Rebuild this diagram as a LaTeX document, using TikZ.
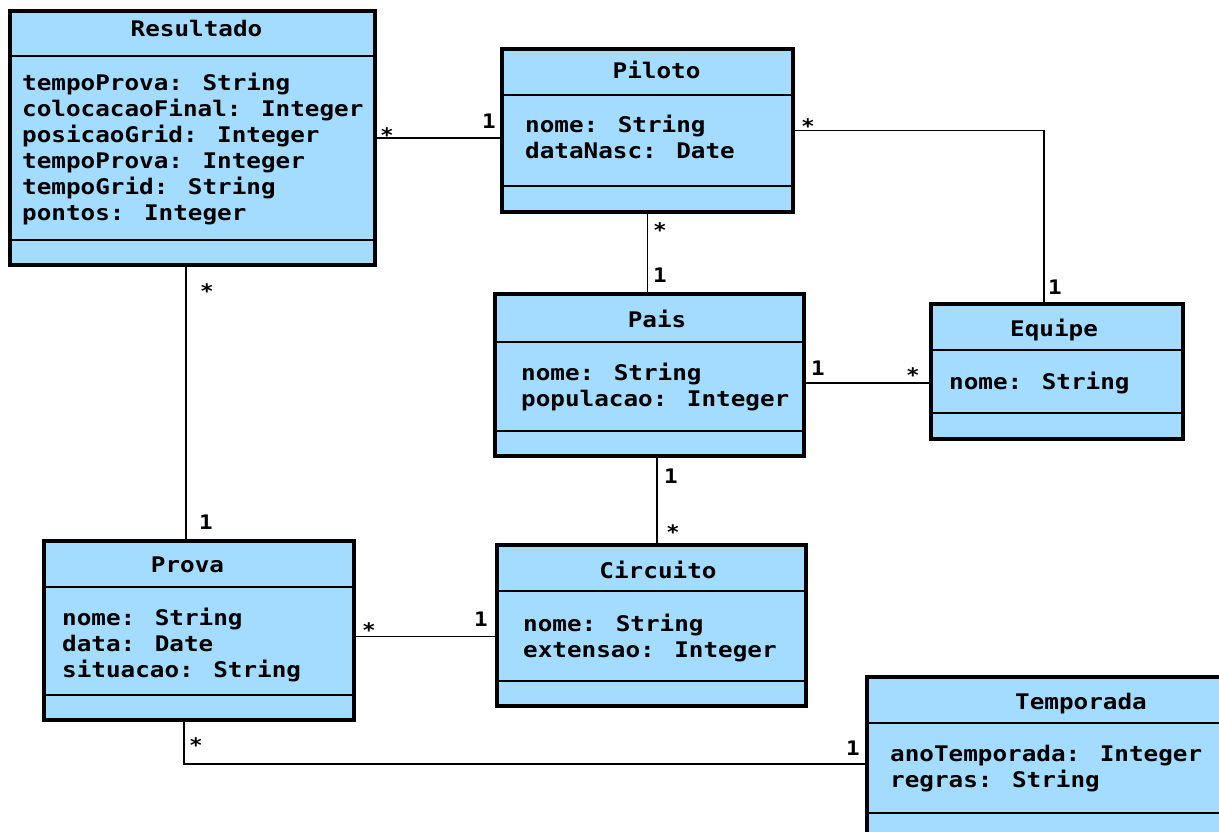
\documentclass[tikz,border=0pt]{standalone}
\usepackage{fontspec}
\usetikzlibrary{calc}
\newfontfamily\umlfont[FakeStretch=1.13]{DejaVu Sans Mono}
\definecolor{umlblue}{HTML}{A3DCFF}
\tikzset{
  clsbox/.style={draw=black, fill=umlblue, line width=3.2pt, inner sep=0pt, outer sep=0pt, anchor=north west},
  sepline/.style={draw=black, line width=1.4pt},
  conn/.style={draw=black, line width=1.4pt},
  txt/.style={font=\umlfont\bfseries\fontsize{21.5pt}{26pt}\selectfont, inner sep=0pt, anchor=base west},
  ttl/.style={font=\umlfont\bfseries\fontsize{21.5pt}{26pt}\selectfont, inner sep=0pt, anchor=base},
  mult/.style={font=\umlfont\bfseries\fontsize{20pt}{26pt}\selectfont, inner sep=0pt, anchor=base}
}
\newcommand{\umlcls}[7]{%
  \node[clsbox, minimum width={#4-#2}, minimum height={#5-#3}] (#1) at (#2,#3) {};
  \draw[sepline] (#2,#6) -- (#4,#6);
  \draw[sepline] (#2,#7) -- (#4,#7);
}
\begin{document}
\begin{tikzpicture}[x=1pt,y=-1pt]
\useasboundingbox (0,0) rectangle (1219,832);
\clip (0,0) rectangle (1219,832);

% classes
\umlcls{res}{10}{11}{375}{265}{56}{240}
\umlcls{pil}{502}{49}{793}{212}{95}{186}
\umlcls{pais}{495}{294}{804}{456}{342}{431}
\umlcls{eq}{931}{304}{1183}{439}{350}{413}
\umlcls{prova}{44}{541}{354}{720}{587}{695}
\umlcls{circ}{497}{545}{806}{706}{591}{681}
\umlcls{temp}{867}{677}{1300}{860}{723}{813}

% titles
\node[ttl] (tres) at (196.5,37) {Resultado};
\node[ttl] (tpil) at (656.5,79) {Piloto};
\node[ttl] (tpais) at (657,327) {Pais};
\node[ttl] (teq) at (1054,336) {Equipe};
\node[ttl] (tprova) at (187.5,572) {Prova};
\node[ttl] (tcirc) at (658,578) {Circuito};
\node[ttl] (ttemp) at (1081,709) {Temporada};

% attributes
\node[txt] (r1) at (22,91) {tempoProva: String};
\node[txt] (r2) at (22,117) {colocacaoFinal: Integer};
\node[txt] (r3) at (22,143) {posicaoGrid: Integer};
\node[txt] (r4) at (22,169) {tempoProva: Integer};
\node[txt] (r5) at (22,195) {tempoGrid: String};
\node[txt] (r6) at (22,221) {pontos: Integer};

\node[txt] (p1) at (525,133) {nome: String};
\node[txt] (p2) at (525,159) {dataNasc: Date};

\node[txt] (pa1) at (521,380) {nome: String};
\node[txt] (pa2) at (521,406) {populacao: Integer};

\node[txt] (e1) at (949,389) {nome: String};

\node[txt] (pr1) at (62,625) {nome: String};
\node[txt] (pr2) at (62,651) {data: Date};
\node[txt] (pr3) at (62,677) {situacao: String};

\node[txt] (c1) at (523,631) {nome: String};
\node[txt] (c2) at (523,657) {extensao: Integer};

\node[txt] (t1) at (890,761) {anoTemporada: Integer};
\node[txt] (t2) at (890,787) {regras: String};

% connectors
\draw[conn] (res.east) -- (res.east -| pil.west);
\coordinate (pe0) at ($(eq.north)+(-13,0)$);
\draw[conn] (pil.east) -| (pe0);
\draw[conn] (pil.south) -- (pil.south |- pais.north);
\coordinate (pq) at ($(pais.east)+(0,8)$);
\draw[conn] (pq) -- (pq -| eq.west);
\coordinate (rp) at ($(res.south)+(-6.5,0)$);
\draw[conn] (rp) -- (rp |- prova.north);
\coordinate (pc) at ($(pais.south)+(7.5,0)$);
\draw[conn] (pc) -- (pc |- circ.north);
\coordinate (prc) at ($(prova.east)+(0,6)$);
\draw[conn] (prc) -- (prc -| circ.west);
\coordinate (ptb) at ($(prova.south)+(-15,0)$);
\coordinate (ptt) at ($(temp.west)+(0,-4.5)$);
\draw[conn] (ptt) -| (ptb);

% multiplicities
\node[mult] (m1) at (387,143) {*};
\node[mult] (m2) at (489,129) {1};
\node[mult] (m3) at (808,134) {*};
\node[mult] (m4) at (1055,294) {1};
\node[mult] (m5) at (660,237) {*};
\node[mult] (m6) at (660,282) {1};
\node[mult] (m7) at (818,375) {1};
\node[mult] (m8) at (913,382) {*};
\node[mult] (m9) at (207,298) {*};
\node[mult] (m10) at (206,529) {1};
\node[mult] (m11) at (671,483) {1};
\node[mult] (m12) at (673,539) {*};
\node[mult] (m13) at (369,637) {*};
\node[mult] (m14) at (481,626) {1};
\node[mult] (m15) at (196,752) {*};
\node[mult] (m16) at (853,755) {1};
\end{tikzpicture}
\end{document}
